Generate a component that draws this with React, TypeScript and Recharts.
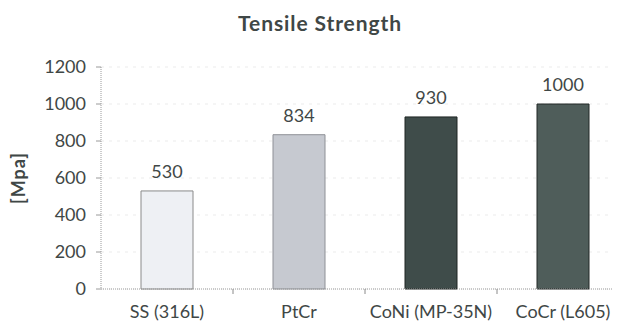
import React from "react";
import {
  BarChart,
  Bar,
  Cell,
  XAxis,
  YAxis,
  CartesianGrid,
  LabelList,
} from "recharts";

const materials = ["SS (316L)", "PtCr", "CoNi (MP-35N)", "CoCr (L605)"];
const tensile = [530, 834, 930, 1000];
const yTicks = [0, 200, 400, 600, 800, 1000, 1200];

const fills = ["#eef0f4", "#c6c9d0", "#3f4c4a", "#4f5d5a"];
const strokes = ["#8a8a8a", "#8e9096", "#1e2523", "#222927"];

const TEXT = "#3f4746";
const FONT = "Lato, 'Open Sans', sans-serif";

const CHART_W = 621;
const CHART_H = 319;
const Y_AXIS_W = 93;
const TICK_GAP = 16;

const data = materials.map((name, i) => ({ name, value: tensile[i] }));

// half a category band, used to put the small axis marks between categories
const halfBand = (CHART_W - Y_AXIS_W) / materials.length / 2;

function CategoryTick(props: any) {
  const { x, y, payload, index } = props;
  const axisY = y - TICK_GAP;
  return (
    <g>
      {index < materials.length - 1 && (
        <line
          x1={x + halfBand}
          x2={x + halfBand}
          y1={axisY}
          y2={axisY + 5}
          stroke="#8a8a8a"
        />
      )}
      <text
        x={x}
        y={y}
        dy="0.71em"
        textAnchor="middle"
        fill={TEXT}
        fontSize={18}
        fontFamily={FONT}
      >
        {payload.value}
      </text>
    </g>
  );
}

export default function App() {
  return (
    <div
      style={{
        position: "relative",
        width: 612,
        height: CHART_H,
        overflow: "hidden",
        fontFamily: FONT,
      }}
    >
      <div
        style={{
          position: "absolute",
          left: 0,
          top: 2,
          width: 624,
          textAlign: "center",
          fontSize: 21,
          lineHeight: "25px",
          fontWeight: 700,
          letterSpacing: 0.9,
          color: TEXT,
        }}
      >
        Tensile Strength
      </div>

      <BarChart
        width={CHART_W}
        height={CHART_H}
        data={data}
        margin={{ top: 59, right: 0, bottom: 8, left: 0 }}
      >
        <CartesianGrid vertical={false} stroke="#ebebeb" strokeDasharray="3 5" />
        <XAxis
          dataKey="name"
          height={30}
          axisLine={{ stroke: "#9a9a9a", strokeDasharray: "1 1" }}
          tickLine={false}
          tickSize={0}
          tickMargin={TICK_GAP}
          interval={0}
          tick={<CategoryTick />}
        />
        <YAxis
          width={Y_AXIS_W}
          domain={[0, 1200]}
          ticks={yTicks}
          axisLine={{ stroke: "#9a9a9a", strokeDasharray: "1 1" }}
          tickLine={{ stroke: "#9a9a9a" }}
          tickSize={5}
          tickMargin={10}
          tick={{ fill: TEXT, fontSize: 18, fontFamily: FONT }}
          label={{
            value: "[Mpa]",
            angle: -90,
            position: "insideLeft",
            offset: 11,
            textAnchor: "middle",
            fill: TEXT,
            fontSize: 18,
            fontFamily: FONT,
            fontWeight: 700,
            letterSpacing: 1,
          }}
        />
        <Bar dataKey="value" barSize={52} strokeWidth={1} isAnimationActive={false}>
          {data.map((d, i) => (
            <Cell key={d.name} fill={fills[i]} stroke={strokes[i]} />
          ))}
          <LabelList
            dataKey="value"
            position="top"
            offset={13}
            fill={TEXT}
            fontSize={18}
            fontFamily={FONT}
          />
        </Bar>
      </BarChart>
    </div>
  );
}
